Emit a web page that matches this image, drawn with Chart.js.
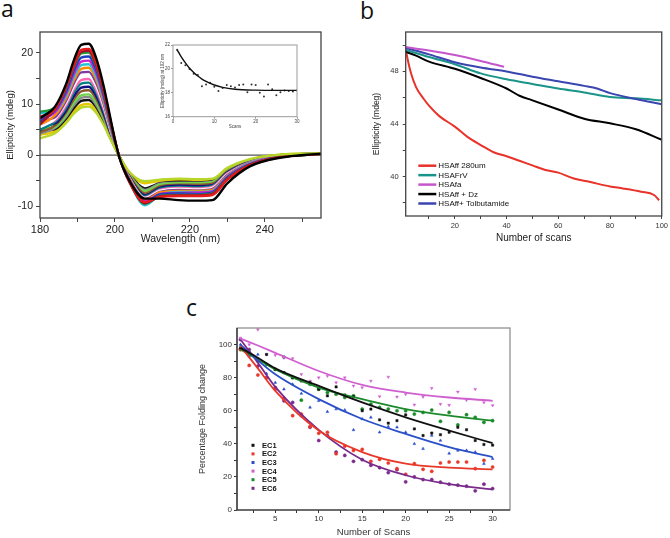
<!DOCTYPE html>
<html>
<head>
<meta charset="utf-8">
<script src="https://cdn.jsdelivr.net/npm/chart.js@4.4.1/dist/chart.umd.min.js"></script>
<style>
  body { margin: 0; background: #fff; width: 670px; height: 538px; position: relative; overflow: hidden; }
  canvas { position: absolute; }
  .tag { position: absolute; font-family: "Open Sans", sans-serif; font-size: 23px; line-height: 1; color: #111; }
</style>
</head>
<body>
<div class="tag" style="left:1px;top:-3px">a</div>
<div class="tag" style="left:360px;top:-1px">b</div>
<div class="tag" style="left:186px;top:296px">c</div>
<canvas id="chartA" width="330" height="250" style="left:0;top:0"></canvas>
<canvas id="chartInset" width="152" height="95" style="left:150px;top:35px"></canvas>
<canvas id="chartB" width="330" height="250" style="left:340px;top:0"></canvas>
<canvas id="chartC" width="340" height="253" style="left:180px;top:285px"></canvas>
<script>
// ---- panel a: CD spectra ----
const wavelengths = [180, 184, 187, 189, 191, 193, 195, 197, 199, 201, 204, 208, 212, 217, 222, 226, 230, 236, 244, 255];
const specBlack = [7.2, 9.5, 14.0, 18.5, 21.6, 21.8, 19.0, 13.5, 6.5, 0.0, -5.2, -8.5, -8.5, -8.8, -8.9, -8.8, -5.5, -2.2, -0.5, 0.3];
const specRed = [7.5, 9.0, 13.5, 17.5, 20.6, 20.8, 18.0, 12.8, 6.2, 0.1, -5.5, -9.2, -8.2, -8.0, -8.0, -7.8, -4.8, -2.0, -0.4, 0.3];
const specDarkRed = [6.0, 9.2, 13.4, 17.4, 20.2, 20.4, 17.6, 12.5, 6.0, 0.0, -5.4, -9.4, -8.1, -7.9, -7.9, -7.6, -4.7, -1.9, -0.4, 0.2];
const specGreen = [8.5, 9.3, 13.2, 17.2, 19.9, 20.1, 17.4, 12.3, 5.9, 0.0, -5.3, -9.5, -8.0, -7.8, -7.8, -7.5, -4.6, -1.9, -0.4, 0.2];
const specBlue = [6.5, 8.8, 12.6, 16.5, 19.1, 19.3, 16.7, 11.8, 5.6, 0.0, -5.2, -9.3, -7.7, -7.5, -7.6, -7.3, -4.4, -1.8, -0.3, 0.4];
const specMagenta = [7.0, 8.4, 12.1, 15.8, 18.3, 18.5, 16.0, 11.3, 5.4, 0.1, -5.0, -9.0, -7.6, -7.4, -7.3, -7.1, -4.2, -1.7, -0.3, 0.3];
const specCyan = [8.2, 8.5, 11.7, 15.2, 17.6, 17.8, 15.4, 10.8, 5.1, 0.0, -5.4, -9.8, -7.8, -7.2, -7.2, -7.0, -4.1, -1.6, -0.3, 0.2];
const specOrange = [6.0, 7.8, 11.2, 14.6, 16.9, 17.1, 14.8, 10.4, 4.9, 0.0, -4.9, -8.8, -7.3, -7.0, -7.0, -6.8, -4.0, -1.6, -0.2, 0.3];
const specPurple = [6.8, 7.4, 10.7, 14.0, 16.2, 16.3, 14.1, 10.0, 4.7, 0.1, -4.8, -8.6, -7.2, -6.8, -6.9, -6.6, -3.9, -1.5, -0.2, 0.4];
const specWhite = [5.5, 7.1, 10.3, 13.4, 15.5, 15.6, 13.5, 9.6, 4.5, 0.0, -4.7, -8.4, -7.0, -6.6, -6.7, -6.4, -3.8, -1.5, -0.2, 0.2];
const specPink = [6.2, 6.8, 9.8, 12.8, 14.7, 14.9, 12.8, 9.1, 4.3, 0.0, -4.6, -8.3, -6.8, -6.4, -6.5, -6.2, -3.6, -1.4, -0.1, 0.3];
const specTeal = [5.0, 6.5, 9.3, 12.2, 14.0, 14.2, 12.2, 8.7, 4.1, 0.0, -4.5, -8.1, -6.6, -6.2, -6.3, -6.0, -3.5, -1.3, -0.1, 0.4];
const specNavy = [5.8, 6.2, 8.8, 11.5, 13.2, 13.4, 11.6, 8.2, 3.9, 0.0, -4.4, -7.9, -6.4, -6.0, -6.1, -5.9, -3.4, -1.3, -0.1, 0.2];
const specBrown = [4.5, 5.8, 8.4, 10.9, 12.5, 12.7, 11.0, 7.8, 3.7, 0.0, -4.2, -7.5, -6.1, -5.8, -5.8, -5.6, -3.2, -1.2, 0.0, 0.3];
const specLime = [5.2, 5.5, 7.9, 10.2, 11.7, 11.9, 10.3, 7.3, 3.5, 0.0, -4.0, -7.0, -5.8, -5.5, -5.5, -5.3, -3.0, -1.1, 0.0, 0.3];
const specGrey = [4.2, 5.3, 7.5, 9.7, 11.2, 11.4, 9.8, 7.0, 3.3, 0.0, -3.9, -6.8, -5.6, -5.4, -5.4, -5.2, -3.0, -1.0, 0.0, 0.3];
const specBlack2 = [4.8, 5.1, 7.2, 9.2, 10.6, 10.8, 9.4, 6.7, 3.2, 0.0, -3.8, -6.5, -5.5, -5.2, -5.3, -5.1, -2.9, -1.0, 0.0, 0.2];
const specGold = [4.0, 4.7, 6.7, 8.6, 9.8, 10.0, 8.7, 6.2, 3.0, 0.0, -3.6, -5.5, -5.0, -4.8, -4.9, -4.8, -2.7, -0.9, 0.1, 0.3];
const specYellowGreen = [3.3, 4.3, 6.3, 8.1, 9.3, 9.5, 8.3, 5.9, 2.8, 0.0, -3.4, -5.1, -4.8, -4.6, -4.7, -4.6, -2.5, -0.8, 0.1, 0.4];
const aWaveTicks = [180, 190, 200, 210, 220, 230, 240, 250];
const aWaveLabels = [180, 200, 220, 240];
const aEllipTicks = [-10, -5, 0, 5, 10, 15, 20];
const aEllipLabels = [-10, 0, 10, 20];

// inset: ellipticity at 192 nm vs scans
const insetScans = [1, 2, 3, 4, 5, 6, 7, 8, 9, 10, 11, 12, 13, 14, 15, 16, 17, 18, 19, 20, 21, 22, 23, 24, 25, 26, 27, 28, 29, 30];
const insetValues = [21.6, 20.5, 20.3, 20.0, 19.6, 19.5, 18.55, 18.7, 18.85, 18.5, 18.15, 18.4, 18.65, 18.55, 18.45, 18.65, 18.7, 18.05, 18.7, 18.65, 18.0, 17.7, 18.7, 18.3, 17.8, 18.05, 18.2, 18.15, 18.1, 18.2];
const insetFitX = [1, 2, 3, 4, 5, 6, 7, 8, 10, 12, 15, 20, 25, 30];
const insetFitY = [21.6, 21.0, 20.5, 20.05, 19.7, 19.4, 19.15, 18.95, 18.65, 18.45, 18.3, 18.22, 18.2, 18.2];
const insetScanTicks = [0, 10, 20, 30];
const insetEllipTicks = [16, 18, 20, 22];

// ---- panel b ----
const redScans = [1, 2, 3, 5, 8, 10, 14, 20, 25, 30, 35, 40, 45, 50, 55, 60, 66, 72, 80, 85, 92, 97, 99];
const redVals = [49.7, 48.7, 47.9, 46.8, 45.9, 45.4, 44.6, 43.8, 43.0, 42.4, 41.85, 41.55, 41.2, 40.85, 40.5, 40.3, 39.85, 39.6, 39.25, 39.1, 38.85, 38.6, 38.2];
const tealScans = [1, 10, 20, 30, 40, 50, 60, 70, 80, 90, 100];
const tealVals = [49.65, 49.1, 48.55, 47.85, 47.4, 47.05, 46.7, 46.4, 46.05, 45.95, 45.8];
const magentaScans = [1, 10, 20, 30, 39];
const magentaVals = [49.85, 49.6, 49.25, 48.8, 48.35];
const blackScans = [1, 5, 10, 20, 30, 40, 45, 50, 60, 70, 80, 90, 100];
const blackVals = [49.5, 49.2, 48.75, 48.2, 47.5, 46.7, 46.15, 45.8, 45.1, 44.4, 44.05, 43.6, 42.8];
const blueScans = [1, 10, 20, 30, 40, 50, 60, 70, 75, 80, 90, 100];
const blueVals = [49.8, 49.3, 48.7, 48.3, 48.0, 47.6, 47.25, 46.9, 46.7, 46.35, 45.9, 45.5];
const bLabels = ['HSAff 280um', 'HSAFrV', 'HSAfa', 'HSAff + Dz', 'HSAff+ Tolbutamide'];
const bScanTicks = [10, 20, 30, 40, 50, 60, 70, 80, 90, 100];
const bScanLabels = [20, 40, 60, 80, 100];
const bEllipTicks = [38, 40, 42, 44, 46, 48, 50];
const bEllipLabels = [40, 44, 48];

// ---- panel c ----
const scansC = [1, 2, 3, 4, 5, 6, 7, 8, 9, 10, 11, 12, 13, 14, 15, 16, 17, 18, 19, 20, 21, 22, 23, 24, 25, 26, 27, 28, 29, 30];
const ec1 = [98, 95, 91, 94, 85, 83, 80, 78, 77, 73, 69, 74.4, 69.5, 68.5, 60, 61, 54.5, 52.5, 54, 57.5, 49, 45, 46.5, 45.5, 47, 50, 48.5, 42, 39.6, 39.2];
const ec2 = [97, 87.4, 81.6, 80, 73, 67.6, 57, 58, 50.4, 46.4, 47, 34, 38.6, 36, 36.6, 29.4, 30.6, 28.4, 25, 21.6, 28, 24.6, 23.4, 28.4, 29, 29, 29, 25, 30, 26];
const ec3 = [100, 93, 94, 82.4, 77, 73, 76, 70.4, 62, 66, 59.4, 61, 60.4, 48.4, 55, 56, 47, 50.4, 50, 47, 40, 37, 45, 42, 34.2, 36, 36, 35, 28, 31];
const ec4 = [104, 100, 109, 94, 93.6, 92, 91.6, 82, 78, 80, 81, 77, 80, 75, 74, 78, 68.6, 80.4, 68.4, 70, 63.6, 68.4, 73.6, 64, 63.4, 71.4, 66.4, 73, 65, 63.2];
const ec5 = [97, 95, 90, 88, 85, 92.4, 80, 66.4, 76, 73, 71, 70, 68, 69, 61, 64, 62, 61, 60, 60, 58, 59, 60.4, 53.6, 59, 51.4, 57.6, 56, 53, 54];
const ec6 = [103, 97, 87, 80, 74, 66, 65, 57, 50, 42, 45, 35, 33, 29.4, 30.4, 27, 25.6, 22.6, 24.4, 17, 20, 18.4, 18.4, 16.8, 15.6, 15, 14.4, 11.6, 15.6, 13];
const fitScans = [1, 3, 5, 10, 15, 20, 25, 30];
const fit1 = [98, 92, 85.6, 75, 65, 56, 48, 40.4];
const fit2 = [99, 85.6, 72, 48, 35, 28, 25.6, 24.6];
const fit3 = [100, 90.4, 82, 67, 55, 46, 38, 32];
const fit4 = [103.6, 99.4, 95, 84, 75.6, 71, 68, 66];
const fit5 = [97, 91, 85, 74, 67, 61, 57, 54];
const fit6 = [103, 89, 74.4, 48.4, 30.4, 21, 15.6, 12.4];
const ecLabels = ['EC1', 'EC2', 'EC3', 'EC4', 'EC5', 'EC6'];
const cScanTicks = [2.5, 5, 7.5, 10, 12.5, 15, 17.5, 20, 22.5, 25, 27.5, 30];
const cScanLabels = [5, 10, 15, 20, 25, 30];
const cPctTicks = [0, 10, 20, 30, 40, 50, 60, 70, 80, 90, 100];
const cPctLabels = [0, 20, 40, 60, 80, 100];

Chart.defaults.font.family = '"Liberation Sans", Arial, sans-serif';
Chart.defaults.color = '#222';
Chart.defaults.animation = false;

function pts(xs, ys) {
    return xs.map((x, i) => ({ x: x, y: ys[i] }));
}

function fixedTicks(values) {
    return function (scale) {
        scale.ticks = values.map(v => ({ value: v }));
    };
}

function labelOnly(list) {
    return function (value) {
        return list.includes(value) ? value : '';
    };
}

const framePlugin = {
    id: 'frame',
    afterDatasetsDraw(chart, args, opts) {
        const ctx = chart.ctx;
        const a = chart.chartArea;
        ctx.save();
        ctx.lineWidth = opts.width || 1;
        ctx.strokeStyle = opts.color || '#333';
        ctx.strokeRect(a.left, a.top, a.right - a.left, a.bottom - a.top);
        if (opts.axisColor) {
            ctx.strokeStyle = opts.axisColor;
            ctx.beginPath();
            ctx.moveTo(a.left, a.top);
            ctx.lineTo(a.left, a.bottom);
            ctx.lineTo(a.right, a.bottom);
            ctx.stroke();
        }
        ctx.restore();
    }
};

const innerLegend = {
    id: 'innerLegend',
    afterDraw(chart, args, opts) {
        if (!opts.items) return;
        const ctx = chart.ctx;
        const a = chart.chartArea;
        ctx.save();
        ctx.font = opts.font;
        ctx.textBaseline = 'middle';
        opts.items.forEach((it, i) => {
            const x = a.left + opts.x;
            const y = a.top + opts.y + i * opts.step;
            ctx.strokeStyle = it.color;
            ctx.fillStyle = it.color;
            if (opts.kind === 'line') {
                ctx.lineWidth = 2.5;
                ctx.beginPath();
                ctx.moveTo(x, y);
                ctx.lineTo(x + 18, y);
                ctx.stroke();
            } else {
                ctx.fillRect(x - 1.5, y - 1.5, 3, 3);
            }
            ctx.fillStyle = '#111';
            ctx.fillText(it.label, x + opts.textX, y + 0.5);
        });
        ctx.restore();
    }
};

// ---------- chart a ----------
const spectra = [
    [specBlack, '#000000'], [specYellowGreen, '#b8d62a'], [specRed, '#e41a1c'], [specDarkRed, '#a0102a'],
    [specGreen, '#1f9e3a'], [specBlue, '#1f3fbf'], [specMagenta, '#d020c8'], [specCyan, '#28c4d4'],
    [specOrange, '#ff8c00'], [specPurple, '#7b3fa0'], [specWhite, '#ffffff'], [specPink, '#ff69b4'],
    [specTeal, '#008080'], [specNavy, '#101080'], [specBrown, '#8b5a2b'], [specLime, '#6fd34e'],
    [specGrey, '#8a8a8a'], [specBlack2, '#111111'], [specGold, '#e8c800']
];

const aDatasets = spectra.map(s => ({
    data: pts(wavelengths, s[0]),
    borderColor: s[1],
    borderWidth: 2.4,
    pointRadius: 0,
    cubicInterpolationMode: 'monotone'
}));
aDatasets.push({
    data: [{ x: 180, y: 0 }, { x: 255, y: 0 }],
    borderColor: '#555',
    borderWidth: 1.2,
    pointRadius: 0,
    order: 1
});

new Chart(document.getElementById('chartA'), {
    type: 'line',
    data: { datasets: aDatasets },
    options: {
        responsive: false,
        layout: { padding: { top: 32, right: 9, left: 0, bottom: 0 } },
        plugins: { legend: { display: false }, tooltip: { enabled: false }, frame: { color: '#444', width: 1.3 } },
        scales: {
            x: {
                type: 'linear', min: 180, max: 255,
                afterFit: s => { s.height = 32; },
                afterBuildTicks: fixedTicks(aWaveTicks),
                grid: { drawOnChartArea: false, tickLength: 4, color: '#444' },
                border: { display: false },
                ticks: { padding: 1, font: { size: 11 }, color: '#222', callback: labelOnly(aWaveLabels) },
                title: { display: true, text: 'Wavelength (nm)', font: { size: 10.5 }, padding: { top: 0, bottom: 5 }, color: '#222' }
            },
            y: {
                min: -12.3, max: 24.1,
                afterFit: s => { s.width = 40; },
                afterBuildTicks: fixedTicks(aEllipTicks),
                grid: { drawOnChartArea: false, tickLength: 4, color: '#444' },
                border: { display: false },
                ticks: { padding: 3, font: { size: 10.5 }, color: '#222', callback: labelOnly(aEllipLabels) },
                title: { display: true, text: 'Ellipticity (mdeg)', font: { size: 9.5 }, padding: { top: 5 }, color: '#222' }
            }
        }
    },
    plugins: [framePlugin]
});

// ---------- inset ----------
new Chart(document.getElementById('chartInset'), {
    type: 'line',
    data: {
        datasets: [
            { data: pts(insetFitX, insetFitY), borderColor: '#111', borderWidth: 1.4, pointRadius: 0, cubicInterpolationMode: 'monotone' },
            { data: pts(insetScans, insetValues), showLine: false, pointRadius: 1, pointBackgroundColor: '#333', pointBorderWidth: 0 }
        ]
    },
    options: {
        responsive: false,
        layout: { padding: { top: 10, right: 5, left: 0, bottom: 0 } },
        plugins: { legend: { display: false }, tooltip: { enabled: false }, frame: { color: '#9a9a9a', width: 1 } },
        scales: {
            x: {
                type: 'linear', min: 0, max: 30,
                afterFit: s => { s.height = 13.3; },
                afterBuildTicks: fixedTicks(insetScanTicks),
                grid: { drawOnChartArea: false, tickLength: 2, color: '#999' },
                border: { display: false },
                ticks: { padding: 0, font: { size: 4.5 }, color: '#444' },
                title: { display: true, text: 'Scans', font: { size: 4.5 }, padding: { top: 0, bottom: 0.5 }, color: '#444' }
            },
            y: {
                min: 16, max: 22,
                afterFit: s => { s.width = 23; },
                afterBuildTicks: fixedTicks(insetEllipTicks),
                grid: { drawOnChartArea: false, tickLength: 2, color: '#999' },
                border: { display: false },
                ticks: { padding: 1, font: { size: 4.5 }, color: '#444' },
                title: { display: true, text: 'Ellipticity (mdeg) at 192 nm', font: { size: 4.5 }, padding: { top: 10 }, color: '#444' }
            }
        }
    },
    plugins: [framePlugin]
});

// ---------- chart b ----------
const bColors = ['#e8322a', '#1a9488', '#c455cc', '#000000', '#3a45b0'];
new Chart(document.getElementById('chartB'), {
    type: 'line',
    data: {
        datasets: [
            { data: pts(magentaScans, magentaVals), borderColor: bColors[2] },
            { data: pts(blueScans, blueVals), borderColor: bColors[4] },
            { data: pts(tealScans, tealVals), borderColor: bColors[1] },
            { data: pts(blackScans, blackVals), borderColor: bColors[3] },
            { data: pts(redScans, redVals), borderColor: bColors[0] }
        ].map(d => Object.assign(d, { borderWidth: 2, pointRadius: 0, cubicInterpolationMode: 'monotone' }))
    },
    options: {
        responsive: false,
        layout: { padding: { top: 32, right: 8, left: 0, bottom: 0 } },
        plugins: {
            legend: { display: false }, tooltip: { enabled: false },
            frame: { color: '#444', width: 1.3 },
            innerLegend: {
                kind: 'line', font: '8px "Liberation Sans", Arial, sans-serif',
                x: 12.6, y: 133.7, step: 9.45, textX: 20,
                items: bLabels.map((l, i) => ({ label: l, color: bColors[i] }))
            }
        },
        scales: {
            x: {
                type: 'linear', min: 1, max: 100,
                afterFit: s => { s.height = 34; },
                afterBuildTicks: fixedTicks(bScanTicks),
                grid: { drawOnChartArea: false, tickLength: 3, color: '#444' },
                border: { display: false },
                ticks: { padding: 2, font: { size: 7.5 }, color: '#333', callback: labelOnly(bScanLabels) },
                title: { display: true, text: 'Number of scans', font: { size: 10 }, padding: { top: 0, bottom: 6 }, color: '#222' }
            },
            y: {
                min: 37, max: 51,
                afterFit: s => { s.width = 65.7; },
                afterBuildTicks: fixedTicks(bEllipTicks),
                grid: { drawOnChartArea: false, tickLength: 3, color: '#444' },
                border: { display: false },
                ticks: { padding: 4, font: { size: 7.5 }, color: '#333', callback: labelOnly(bEllipLabels) },
                title: { display: true, text: 'Ellipticity (mdeg)', font: { size: 8.5 }, padding: { top: 32 }, color: '#222' }
            }
        }
    },
    plugins: [framePlugin, innerLegend]
});

// ---------- chart c ----------
const cColors = ['#111111', '#e8382a', '#2a4fc8', '#d060d0', '#1a8a2a', '#7a2a8a'];
const cStyles = ['rect', 'circle', 'triangle', 'triangle', 'circle', 'circle'];
const cPoints = [ec1, ec2, ec3, ec4, ec5, ec6];
const cFits = [fit1, fit2, fit3, fit4, fit5, fit6];
const cDatasets = [];
cFits.forEach((f, i) => {
    cDatasets.push({ data: pts(fitScans, f), borderColor: cColors[i], borderWidth: 1.8, pointRadius: 0, cubicInterpolationMode: 'monotone' });
});
cPoints.forEach((p, i) => {
    cDatasets.push({
        data: pts(scansC, p), showLine: false, pointStyle: cStyles[i], pointRotation: i === 3 ? 180 : 0,
        pointRadius: 1.6, pointBackgroundColor: cColors[i], pointBorderColor: cColors[i], pointBorderWidth: 0.5
    });
});

new Chart(document.getElementById('chartC'), {
    type: 'line',
    data: { datasets: cDatasets },
    options: {
        responsive: false,
        layout: { padding: { top: 43, right: 10, left: 0, bottom: 0 } },
        plugins: {
            legend: { display: false }, tooltip: { enabled: false },
            frame: { color: '#888', width: 1.2, axisColor: '#222' },
            innerLegend: {
                kind: 'point', font: 'bold 7.5px "Liberation Sans", Arial, sans-serif',
                x: 16, y: 117.3, step: 8.6, textX: 9,
                items: ecLabels.map((l, i) => ({ label: l, color: cColors[i] }))
            }
        },
        scales: {
            x: {
                type: 'linear', min: 0.6, max: 32,
                afterFit: s => { s.height = 28; },
                afterBuildTicks: fixedTicks(cScanTicks),
                grid: { drawOnChartArea: false, tickLength: 3, color: '#333' },
                border: { display: false },
                ticks: { padding: 1, font: { size: 8 }, color: '#333', callback: labelOnly(cScanLabels) },
                title: { display: true, text: 'Number of Scans', font: { size: 9.5 }, padding: { top: 0, bottom: 0 }, color: '#333' }
            },
            y: {
                min: 0, max: 110,
                afterFit: s => { s.width = 57; },
                afterBuildTicks: fixedTicks(cPctTicks),
                grid: { drawOnChartArea: false, tickLength: 3, color: '#333' },
                border: { display: false },
                ticks: { padding: 2, font: { size: 8 }, color: '#333', callback: labelOnly(cPctLabels) },
                title: { display: true, text: 'Percentage Folding change', font: { size: 9 }, padding: { top: 17.5 }, color: '#333' }
            }
        }
    },
    plugins: [framePlugin, innerLegend]
});
</script>
</body>
</html>
